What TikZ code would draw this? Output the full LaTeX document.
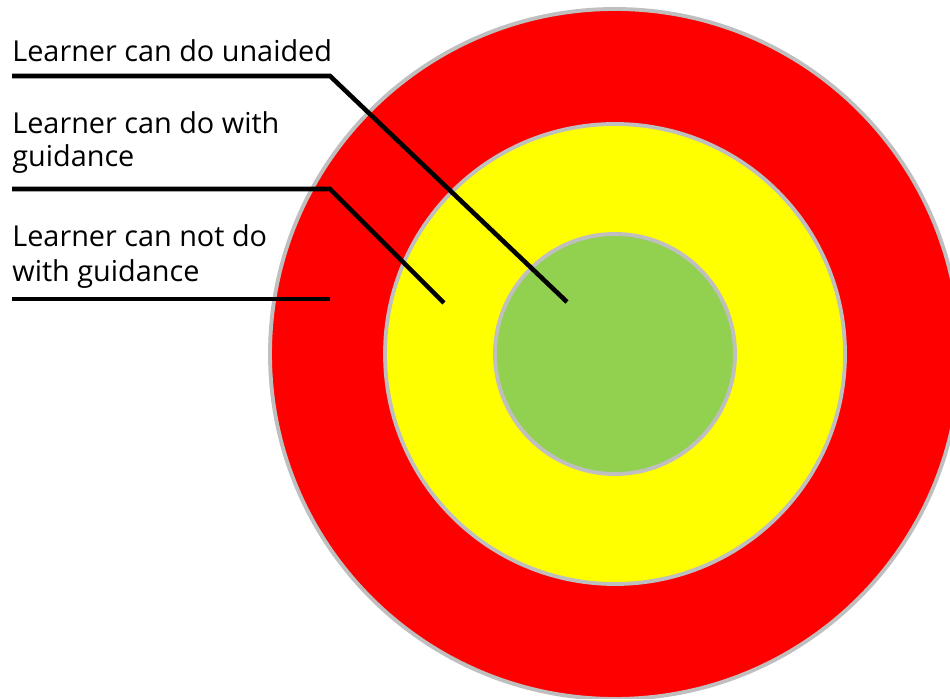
\documentclass[tikz,border=0pt]{standalone}
\usepackage{fontspec}
\setmainfont{Open Sans}
\usetikzlibrary{calc,positioning}
\definecolor{Ring}{HTML}{BFBFBF}
\definecolor{OuterRed}{HTML}{FF0000}
\definecolor{MidYellow}{HTML}{FFFF00}
\definecolor{InnerGreen}{HTML}{92D050}
\tikzset{
  ring/.style={circle, draw=Ring, line width=2.2pt, inner sep=0pt},
  lbl/.style={anchor=base west, inner sep=0pt, align=left,
    font=\fontsize{16.4}{19.3}\selectfont},
  leader/.style={line width=2.6pt, draw=black, line join=miter}
}

\begin{document}
\begin{tikzpicture}
        \useasboundingbox (0,0) rectangle (19,13.98);
        \clip (0,0) rectangle (19,13.98);
        \coordinate (c) at (12.3,6.9);
        \node[ring,fill=OuterRed,minimum size=13.8cm] (outer) at (c) {};
        \node[ring,fill=MidYellow,minimum size=9.2cm] (middle) at (c) {};
        \node[ring,fill=InnerGreen,minimum size=4.8cm] (inner) at (c) {};
        % labels (base = last line)
        \node[lbl] (unaided) at (0.24,12.74) {Learner can do unaided};
        \node[lbl] (guided) at (0.24,10.64) {Learner can do with\\guidance};
        \node[lbl,font=\fontsize{16.4}{20.2}\selectfont] (notdo) at (0.24,8.34) {Learner can not do\\with guidance};
        % leader lines
        \coordinate (kink) at (6.6,0);
        \coordinate (tipA) at (11.34,7.94);
        \coordinate (tipB) at (8.88,7.92);
        \coordinate (u1) at (0.24,12.46);
        \coordinate (u2) at (0.24,10.2);
        \coordinate (u3) at (0.24,8.0);
        \draw[leader] (u1) -- (u1 -| kink) -- (tipA);
        \draw[leader] (u2) -- (u2 -| kink) -- (tipB);
        \draw[leader] (u3) -- (u3 -| kink);
      \end{tikzpicture}
\end{document}
